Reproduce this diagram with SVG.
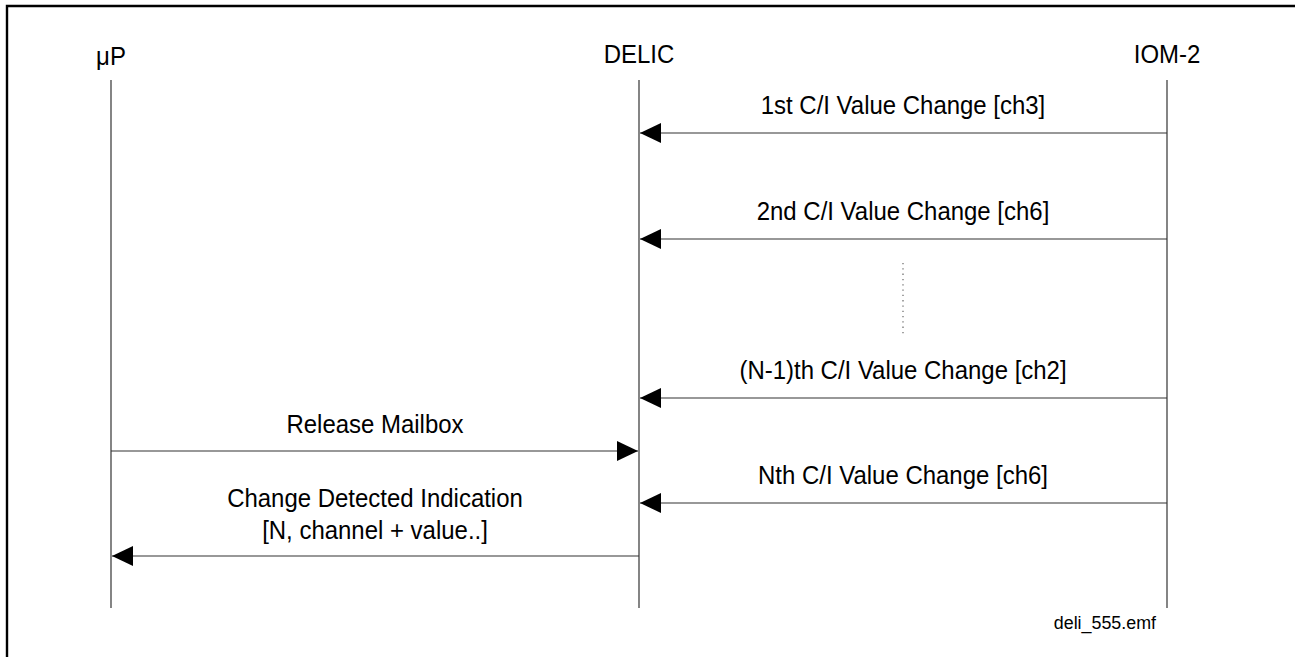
<svg xmlns="http://www.w3.org/2000/svg" width="1295" height="657" viewBox="0 0 1295 657">
<style>
text{font-family:"Liberation Sans",Arial,sans-serif;font-size:25.5px;fill:#000;text-anchor:middle}
.life{stroke:#333;stroke-width:1.2;fill:none}
.msg{stroke:#333;stroke-width:1.2;fill:none}
</style>
<defs>
<marker id="ah" viewBox="0 0 21 20" refX="21" refY="10" markerWidth="21" markerHeight="20" markerUnits="userSpaceOnUse" orient="auto">
<path d="M0,0 L21,10 L0,20 Z" fill="#000"/>
</marker>
</defs>
<rect width="1295" height="657" fill="#fff"/>
<path d="M7,660 V6 H1300" fill="none" stroke="#000" stroke-width="2.4"/>
<g id="uP"><text transform="translate(111,65) scale(0.94,1)">μP</text><line class="life" x1="111" y1="80" x2="111" y2="608"/></g>
<g id="DELIC"><text transform="translate(639,63) scale(0.94,1)">DELIC</text><line class="life" x1="639" y1="80" x2="639" y2="608"/></g>
<g id="IOM2"><text transform="translate(1167,63) scale(0.94,1)">IOM-2</text><line class="life" x1="1167" y1="80" x2="1167" y2="608"/></g>
<g id="connectors">
<line class="msg" x1="1167" y1="133" x2="640" y2="133" marker-end="url(#ah)"/>
<line class="msg" x1="1167" y1="239" x2="640" y2="239" marker-end="url(#ah)"/>
<line class="msg" x1="1167" y1="398" x2="640" y2="398" marker-end="url(#ah)"/>
<line class="msg" x1="111" y1="451" x2="638" y2="451" marker-end="url(#ah)"/>
<line class="msg" x1="1167" y1="503" x2="640" y2="503" marker-end="url(#ah)"/>
<line class="msg" x1="639" y1="556" x2="112" y2="556" marker-end="url(#ah)"/>
<line x1="903" y1="263" x2="903" y2="335" stroke="#666" stroke-width="1.2" stroke-dasharray="1.3 4"/>
</g>
<g id="labels">
<text transform="translate(903,114) scale(0.94,1)">1st C/I Value Change [ch3]</text>
<text transform="translate(903,220) scale(0.94,1)">2nd C/I Value Change [ch6]</text>
<text transform="translate(903,379) scale(0.94,1)">(N-1)th C/I Value Change [ch2]</text>
<text transform="translate(375,433) scale(0.94,1)">Release Mailbox</text>
<text transform="translate(903,484) scale(0.94,1)">Nth C/I Value Change [ch6]</text>
<text transform="translate(375,507) scale(0.94,1)">Change Detected Indication</text>
<text transform="translate(375,539) scale(0.94,1)">[N, channel + value..]</text>
<text transform="translate(1156,629) scale(0.94,1)" style="font-size:19px;text-anchor:end">deli_555.emf</text>
</g>
</svg>
